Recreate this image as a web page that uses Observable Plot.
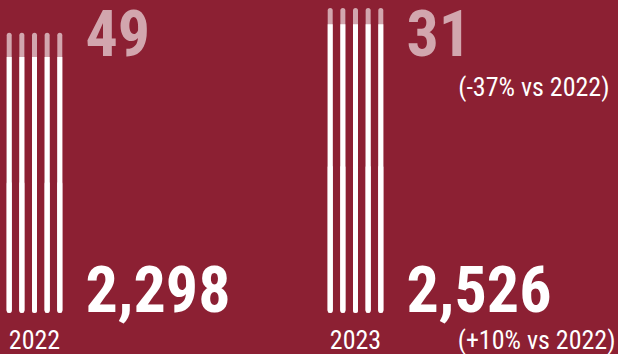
<!DOCTYPE html>
<html><head><meta charset="utf-8">
<script src="https://cdn.jsdelivr.net/npm/d3@7"></script>
<script src="https://cdn.jsdelivr.net/npm/@observablehq/plot@0.6"></script>
<style>
html,body{margin:0;padding:0;background:#8C2033;}
#chart svg{display:block;}
#chart svg text{font-stretch:75%;}
</style></head><body><div id="chart"></div>
<script>
// ---- data ----
const years = ["2022", "2023"];
const injuries = [2298, 2526];
const deaths = [49, 31];
const deathsChange = [null, "(-37% vs 2022)"];
const injuriesChange = [null, "(+10% vs 2022)"];

// ---- styling / layout constants ----
const BG = "#8C2033";
const FADED = "#D2A6AE";
const TIP = 3.8;          // visual emphasis of the deaths tip
const LINES = 5;
const SPACING = 12.65;

const rows = years.map((year, i) => ({
  year,
  injuries: injuries[i],
  deaths: deaths[i],
  total: injuries[i] + deaths[i],
  split: injuries[i] + deaths[i] - deaths[i] * TIP,
  deathsChange: deathsChange[i],
  injuriesChange: injuriesChange[i]
}));

const fmt = d3.format(",");
const marks = [];
for (let i = 0; i < LINES; i++) {
  const dx = (i - (LINES - 1) / 2) * SPACING;
  marks.push(Plot.ruleX(rows, {x: "year", y1: 0, y2: "total", stroke: FADED, strokeWidth: 5, strokeLinecap: "round", dx}));
  marks.push(Plot.ruleX(rows, {x: "year", y1: 0, y2: "split", stroke: "#fff", strokeWidth: 5, strokeLinecap: "butt", dx}));
  marks.push(Plot.ruleX(rows, {x: "year", y1: 0, y2: d => d.split / 2, stroke: "#fff", strokeWidth: 5, strokeLinecap: "round", dx}));
}
marks.push(
  Plot.text(rows, {x: "year", frameAnchor: "top", text: d => fmt(d.deaths), textAnchor: "start", lineAnchor: "top",
    dx: 51, dy: 4.8, fontSize: 64, fontWeight: 700, fill: FADED}),
  Plot.text(rows, {x: "year", frameAnchor: "bottom", text: d => fmt(d.injuries), textAnchor: "start", lineAnchor: "top",
    dx: 51, dy: -44, fontSize: 64, fontWeight: 700, fill: "#fff"}),
  Plot.text(rows, {x: "year", frameAnchor: "bottom", text: "year", textAnchor: "middle", lineAnchor: "top",
    dy: 19.5, fontSize: 26, fill: "#fff"}),
  Plot.text(rows.filter(d => d.deathsChange), {frameAnchor: "top-right", text: "deathsChange", textAnchor: "end", lineAnchor: "top",
    dx: -9, dy: 72, fontSize: 26, fill: "#fff"}),
  Plot.text(rows.filter(d => d.injuriesChange), {frameAnchor: "bottom-right", text: "injuriesChange", textAnchor: "end", lineAnchor: "top",
    dx: -3, dy: 19.5, fontSize: 26, fill: "#fff"})
);

const chart = Plot.plot({
  width: 618,
  height: 354,
  marginTop: 5.5,
  marginBottom: 43.5,
  marginLeft: 0,
  marginRight: 0,
  style: {background: BG, fontFamily: "'Roboto Condensed', Roboto, sans-serif", color: "#fff"},
  x: {type: "point", domain: years, range: [33.7, 355.3], padding: 0, axis: null},
  y: {domain: [0, 2600], axis: null},
  marks
});
document.getElementById("chart").append(chart);
</script>
</body></html>
